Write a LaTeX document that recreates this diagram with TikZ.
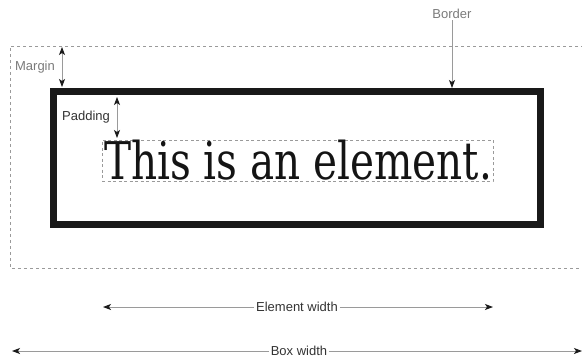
\documentclass[tikz,border=0pt]{standalone}
\usepackage{fontspec}
\setmainfont{Liberation Sans}
\newfontfamily\bigserif{DejaVu Serif Condensed}
\usetikzlibrary{arrows.meta}
\definecolor{linegray}{HTML}{9A9A9A}
\definecolor{darklab}{HTML}{333333}
\definecolor{lightlab}{HTML}{7A7A7A}
\definecolor{tipcol}{HTML}{1A1A1A}
\tikzset{
  tiphead/.tip={Stealth[length=8pt,width=6pt,inset=2pt,color=tipcol]},
  oneway/.style={draw=linegray, line width=0.9pt, -tiphead},
  twoway/.style={draw=linegray, line width=0.9pt, tiphead-tiphead},
  lab/.style={font=\fontsize{13}{13}\selectfont, inner sep=1.5pt},
  darktext/.style={lab, text=darklab},
  lighttext/.style={lab, text=lightlab},
  marginline/.style={draw=linegray, line width=0.8pt, dash pattern=on 3pt off 3pt},
}
\begin{document}
\begin{tikzpicture}[x=1pt,y=-1pt]
\useasboundingbox (0,0) rectangle (582,360);

% margin box (open to the right edge)
\draw[marginline] (590,46) -- (10,46) -- (10,268) -- (590,268);

% border
\node[draw=black!90, line width=7pt, minimum width=487.5pt, minimum height=133pt, inner sep=0pt] (border) at (296.75,158) {};

% element (content) box
\node[draw=linegray, line width=0.8pt, dash pattern=on 3pt off 2.5pt, minimum width=391pt, minimum height=41pt, inner sep=0pt] (elem) at (297.5,160.5) {};
\node[anchor=base, inner sep=0pt, text=black!92] (txt) at (298,179.5) {\bigserif\fontsize{52}{52}\selectfont\resizebox{388pt}{\height}{This is an element.}};

% margin
\coordinate (mt) at (62,47);
\coordinate (mb) at (62,87);
\draw[twoway] (mt) -- (mb);
\node[lighttext] (marginlab) at (35,67) {Margin};

% padding
\coordinate (pt) at (117,97);
\coordinate (pb) at (117,138);
\draw[twoway] (pt) -- (pb);
\node[darktext] (padlab) at (86,117) {Padding};

% border label
\node[lighttext] (borderlab) at (452,14) {Border};
\draw[oneway] (borderlab.south) -- (border.north -| borderlab.south);

% element width
\node[darktext] (ew) at (297,307) {Element width};
\coordinate (ewl) at (103,307);
\coordinate (ewr) at (493,307);
\draw[oneway] (ew.west) -- (ewl);
\draw[oneway] (ew.east) -- (ewr);

% box width
\node[darktext] (bw) at (299,351) {Box width};
\coordinate (bwl) at (12,351);
\coordinate (bwr) at (582,351);
\draw[oneway] (bw.west) -- (bwl);
\draw[oneway] (bw.east) -- (bwr);
\end{tikzpicture}
\end{document}
